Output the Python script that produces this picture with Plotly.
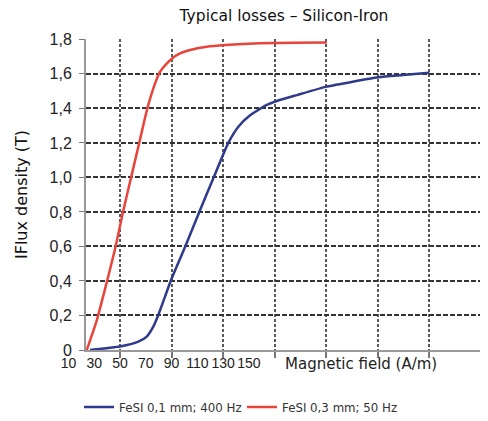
import plotly.graph_objects as go

# ---------------- data ----------------
red_field = [24.2, 31.9, 39.6, 46.3, 52.3, 58.6, 64.9, 71.2, 77.2, 81.0, 86.2, 94.0, 104.3, 117.3, 131.5, 158.6, 185.0, 210.4]
red_flux = [0.0, 0.17, 0.39, 0.59, 0.8, 1.0, 1.2, 1.4, 1.545, 1.612, 1.66, 1.709, 1.738, 1.757, 1.767, 1.777, 1.78, 1.782]

blue_field = [26.7, 50.0, 64.2, 70.7, 75.8, 79.7, 84.9, 89.3, 100.6, 111.5, 122.4, 134.0, 141.8, 150.9, 163.8, 171.6, 187.1, 210.4, 250.4, 269.5, 290.0]
blue_flux = [0.0, 0.02, 0.048, 0.077, 0.135, 0.203, 0.309, 0.4, 0.6, 0.8, 0.995, 1.2, 1.294, 1.36, 1.42, 1.443, 1.477, 1.526, 1.58, 1.593, 1.607]

series_names = ["FeSI 0,1 mm; 400 Hz", "FeSI 0,3 mm; 50 Hz"]
series_colors = ["#2f3a8a", "#e8443c"]

x_label_vals = [10, 30, 50, 70, 90, 110, 130, 150]
x_label_text = ["10", "30", "50", "70", "90", "110", "130", "150"]
x_grid_vals = [50, 90, 130, 170, 210, 250, 290, 330]

y_tick_vals = [0, 0.2, 0.4, 0.6, 0.8, 1.0, 1.2, 1.4, 1.6, 1.8]
y_tick_text = ["0", "0,2", "0,4", "0,6", "0,8", "1,0", "1,2", "1,4", "1,6", "1,8"]

title_text = "Typical losses – Silicon-Iron"
x_title = "Magnetic field (A/m)"
y_title = "IFlux density (T)"

# ---------------- geometry ----------------
# the page body adds an 8px margin, so the figure is drawn 8px smaller
W, H = 480, 413
ML, MR, MT, MB = 42, 5, 31, 71
plot_w = W - ML - MR
plot_h = H - MT - MB
x_min, x_max = 23.6, 331.6
axis_px = 78  # left edge of main plot area inside the figure
dom0 = (axis_px - ML) / plot_w
ppu = plot_w * (1 - dom0) / (x_max - x_min)
x2_min = x_min - (axis_px - ML) / ppu

WIDE = "DejaVu Sans, Verdana, sans-serif"
ARIAL = "Liberation Sans, Arial, sans-serif"

fig = go.Figure()
fig.add_trace(go.Scatter(x=blue_field, y=blue_flux, mode="lines", name=series_names[0],
                         line=dict(color=series_colors[0], width=2.5, shape="spline", smoothing=0.5)))
fig.add_trace(go.Scatter(x=red_field, y=red_flux, mode="lines", name=series_names[1],
                         line=dict(color=series_colors[1], width=2.5, shape="spline", smoothing=0.5)))
# empty trace only to give the label axis a subplot
fig.add_trace(go.Scatter(x=[None], y=[None], xaxis="x2", yaxis="y2", showlegend=False,
                         hoverinfo="skip", mode="lines"))

fig.update_layout(
    width=W, height=H,
    margin=dict(l=ML, r=MR, t=MT, b=MB, autoexpand=False),
    paper_bgcolor="white", plot_bgcolor="rgba(0,0,0,0)",
    font=dict(family=WIDE, size=14, color="#222"),
    title=dict(text=title_text, x=276 / W, xref="container", xanchor="center",
               y=1 - 8 / H, yref="container", yanchor="middle",
               font=dict(family=WIDE, size=15.5, color="#111")),
    xaxis=dict(domain=[dom0, 1], range=[x_min, x_max], tickmode="array", tickvals=x_grid_vals,
               showticklabels=False, ticks="outside", ticklen=6, tickcolor="#777", tickwidth=1.5,
               showgrid=True, gridcolor="#5a5a5a", gridwidth=2, griddash="3px,2px",
               showline=True, linecolor="#999", linewidth=2, zeroline=False, anchor="y",
               automargin=False),
    yaxis=dict(domain=[0, 1], range=[0, 1.802], tickmode="array", tickvals=y_tick_vals,
               ticktext=y_tick_text, ticks="outside", ticklen=5, tickcolor="#777",
               ticklabelstandoff=4, automargin=False,
               showgrid=True, gridcolor="#333", gridwidth=1.6, griddash="5px,2px",
               showline=True, linecolor="#999", linewidth=2, zeroline=False, anchor="x",
               title=dict(text=y_title, standoff=18, font=dict(family=WIDE, size=16, color="#111")),
               tickfont=dict(family=ARIAL, size=16, color="#222")),
    xaxis2=dict(domain=[0, 1], range=[x2_min, x_max], tickmode="array", tickvals=x_label_vals,
                ticktext=x_label_text, ticks="", tickangle=0, showgrid=False, showline=False,
                zeroline=False, anchor="y2", tickfont=dict(family=ARIAL, size=14, color="#222"),
                ticklabelstandoff=3, automargin=False),
    yaxis2=dict(domain=[0, 1], range=[0, 1], visible=False, anchor="x2"),
    legend=dict(orientation="h", x=(71 - ML) / plot_w, xanchor="left",
                y=-(399 - (H - MB)) / plot_h, yanchor="middle", entrywidth=118,
                font=dict(family=WIDE, size=11.8, color="#333"), bgcolor="rgba(0,0,0,0)"),
    showlegend=True,
)

fig.add_annotation(text=x_title, xref="x", x=176.5, xanchor="left",
                   yref="paper", y=0, yanchor="top", yshift=-3, showarrow=False,
                   font=dict(family=WIDE, size=15, color="#222"))

fig.write_html("out.html")
